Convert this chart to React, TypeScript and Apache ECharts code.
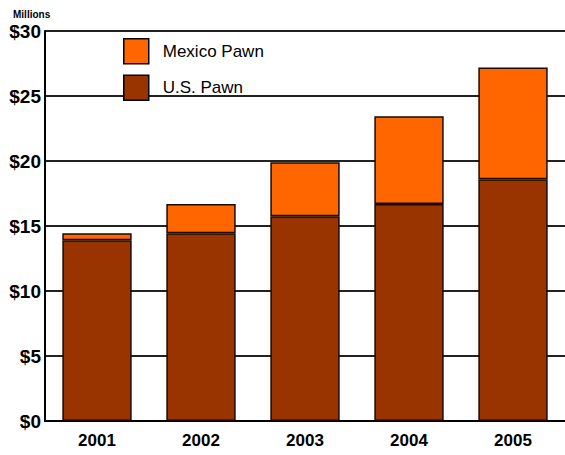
import React, { useEffect, useRef } from "react";
import * as echarts from "echarts";

const categories = ["2001", "2002", "2003", "2004", "2005"];
const usPawn = [13.9, 14.45, 15.75, 16.7, 18.6];
const mexicoPawn = [0.55, 2.25, 4.15, 6.75, 8.6];
const yTicks = [0, 5, 10, 15, 20, 25, 30];

const FONT = "'Liberation Sans', Arial, sans-serif";

export default function App() {
  const ref = useRef<HTMLDivElement>(null);
  useEffect(() => {
    if (!ref.current) return;
    const chart = echarts.init(ref.current, null, { renderer: "svg" });
    chart.setOption({
      animation: false,
      backgroundColor: "#ffffff",
      grid: { left: 45, top: 31, width: 525, height: 390 },
      graphic: [
        {
          type: "text",
          left: 13,
          top: 9,
          style: { text: "Millions", font: `bold 10px ${FONT}`, fill: "#000" },
        },
      ],
      legend: {
        orient: "vertical",
        left: 118,
        top: 33,
        itemWidth: 25,
        itemHeight: 25,
        itemGap: 10,
        icon: "rect",
        data: ["Mexico Pawn", "U.S. Pawn"],
        textStyle: { fontFamily: FONT, fontSize: 17, color: "#000", padding: [0, 0, 0, 9] },
        itemStyle: { borderColor: "#000", borderWidth: 1.5 },
      },
      xAxis: {
        type: "category",
        data: categories,
        axisLine: { show: true, lineStyle: { color: "#000", width: 2 } },
        axisTick: { show: false },
        axisLabel: { fontFamily: FONT, fontWeight: "bold", fontSize: 17, color: "#000", margin: 11 },
      },
      yAxis: {
        type: "value",
        min: 0,
        max: 30,
        interval: 5,
        axisLine: { show: true, lineStyle: { color: "#000", width: 2 } },
        axisTick: { show: false },
        splitLine: { show: true, lineStyle: { color: "#222", width: 2 } },
        axisLabel: {
          fontFamily: FONT,
          fontWeight: "bold",
          fontSize: 19,
          color: "#000",
          margin: 4,
          formatter: (v: number) => (yTicks.includes(v) ? "$" + v : ""),
        },
      },
      series: [
        {
          name: "U.S. Pawn",
          type: "bar",
          stack: "total",
          data: usPawn,
          barWidth: "66.7%",
          itemStyle: { color: "#993300", borderColor: "#1a0a00", borderWidth: 1.5 },
        },
        {
          name: "Mexico Pawn",
          type: "bar",
          stack: "total",
          data: mexicoPawn,
          barWidth: "66.7%",
          itemStyle: { color: "#ff6600", borderColor: "#1a0a00", borderWidth: 1.5 },
        },
      ],
    });
    return () => chart.dispose();
  }, []);
  return (
    <div
      ref={ref}
      style={{ position: "absolute", left: 0, top: 0, width: 565, height: 455 }}
    />
  );
}
